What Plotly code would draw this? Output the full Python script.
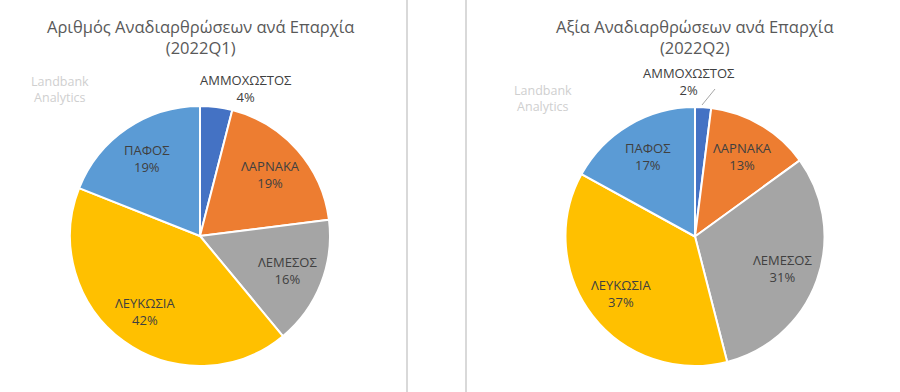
import math
import plotly.graph_objects as go

regions = ["ΑΜΜΟΧΩΣΤΟΣ", "ΛΑΡΝΑΚΑ", "ΛΕΜΕΣΟΣ", "ΛΕΥΚΩΣΙΑ", "ΠΑΦΟΣ"]
count_q1 = [4, 19, 16, 42, 19]
value_q2 = [2, 13, 31, 37, 17]
colors = ["#4472C4", "#ED7D31", "#A5A5A5", "#FFC000", "#5B9BD5"]
title_left = "Αριθμός Αναδιαρθρώσεων ανά Επαρχία<br>(2022Q1)"
title_right = "Αξία Αναδιαρθρώσεων ανά Επαρχία<br>(2022Q2)"
watermark = "Landbank<br>Analytics"

W, H = 900, 392
FONT = "Open Sans"
TXT = "#404040"
LABEL_R = 0.72  # radial position of inside labels (fraction of radius)

def px_x(x):
    return x / W

def px_y(y):
    return 1 - y / H

fig = go.Figure()
ann = []

def add_text(text, x, y, size, color):
    ann.append(dict(text=text, x=px_x(x), y=px_y(y), xref="paper", yref="paper",
                    showarrow=False, font=dict(family=FONT, size=size, color=color),
                    xanchor="center", yanchor="middle"))

def add_pie(values, cx, cy, r):
    fig.add_trace(go.Pie(
        labels=regions, values=values, sort=False, direction="clockwise", rotation=0,
        marker=dict(colors=colors, line=dict(color="white", width=2)),
        textinfo="none",
        domain=dict(x=[px_x(cx - r), px_x(cx + r)], y=[px_y(cy + r), px_y(cy - r)]),
        showlegend=False, hoverinfo="label+percent",
    ))
    total = sum(values)
    cum = 0
    for i, (name, v) in enumerate(zip(regions, values)):
        mid = (cum + v / 2) / total * 2 * math.pi
        cum += v
        if i == 0:
            continue  # small slice labelled outside
        x = cx + LABEL_R * r * math.sin(mid)
        y = cy - LABEL_R * r * math.cos(mid)
        add_text("%s<br>%d%%" % (name, round(v / total * 100)), x, y, 13, TXT)

add_pie(count_q1, 200, 236, 130)
add_pie(value_q2, 695, 236.5, 129.5)

add_text(title_left, 200, 37, 16.5, "#595959")
add_text(title_right, 695, 37, 16.5, "#595959")
add_text(watermark, 60, 90, 12.5, "#CFCFCF")
add_text(watermark, 543, 98, 12.5, "#CFCFCF")
add_text("%s<br>%d%%" % (regions[0], count_q1[0]), 246, 88, 13, TXT)
add_text("%s<br>%d%%" % (regions[0], value_q2[0]), 689, 82, 13, TXT)

shapes = [
    dict(type="line", xref="paper", yref="paper", x0=px_x(407), x1=px_x(407), y0=0, y1=1,
         line=dict(color="#D9D9D9", width=2)),
    dict(type="line", xref="paper", yref="paper", x0=px_x(466), x1=px_x(466), y0=0, y1=1,
         line=dict(color="#D9D9D9", width=2)),
    dict(type="line", xref="paper", yref="paper", x0=px_x(702), x1=px_x(715), y0=px_y(105), y1=px_y(89),
         line=dict(color="#A6A6A6", width=1)),
]

fig.update_layout(
    width=W, height=H, margin=dict(l=0, r=0, t=0, b=0),
    paper_bgcolor="white", plot_bgcolor="white",
    annotations=ann, shapes=shapes,
)

fig.write_html("out.html", config={"displayModeBar": False},
               post_script="document.body.style.margin='0';")
